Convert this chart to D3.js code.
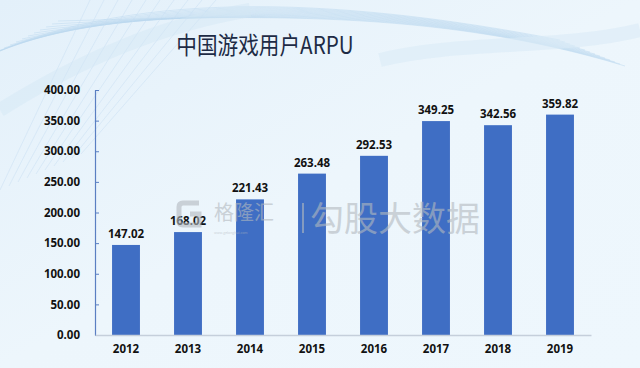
<!DOCTYPE html>
<html>
<head>
<meta charset="utf-8">
<script src="https://cdn.jsdelivr.net/npm/d3@7"></script>
<style>
  body { margin: 0; }
  svg { display: block; }
</style>
</head>
<body>
<div class="chart"></div>
<script>
var years = ["2012", "2013", "2014", "2015", "2016", "2017", "2018", "2019"];
var arpu = [147.02, 168.02, 221.43, 263.48, 292.53, 349.25, 342.56, 359.82];
var yTicks = [0, 50, 100, 150, 200, 250, 300, 350, 400];

var svgWidth = 640;
var svgHeight = 368;

var margin = { top: 90, right: 49, bottom: 33, left: 95 };
var width = svgWidth - margin.left - margin.right;
var height = svgHeight - margin.top - margin.bottom;

var svg = d3.select(".chart")
  .append("svg")
  .attr("width", svgWidth)
  .attr("height", svgHeight);

// background
var defs = svg.append("defs");
var grad = defs.append("linearGradient")
  .attr("id", "bg")
  .attr("x1", "0").attr("y1", "0").attr("x2", "1").attr("y2", "1");
grad.append("stop").attr("offset", "0%").attr("stop-color", "#e3f0fa");
grad.append("stop").attr("offset", "50%").attr("stop-color", "#edf6fc");
grad.append("stop").attr("offset", "100%").attr("stop-color", "#eef7fd");

svg.append("rect")
  .attr("width", svgWidth)
  .attr("height", svgHeight)
  .attr("fill", "url(#bg)");

// decorative swooshes at the top
var swoosh = svg.append("g").attr("fill", "none");
for (var i = 0; i < 14; i++) {
  swoosh.append("path")
    .attr("d", "M" + (-20 + i * 6) + "," + (60 - i * 3) +
      " C" + (120 + i * 10) + "," + (-10 + i * 2) + " " + (330 + i * 8) + "," + (-5 + i) +
      " " + (560 + i * 5) + "," + (40 + i * 2))
    .attr("stroke", "#b9d6ee")
    .attr("stroke-width", 0.8)
    .attr("opacity", 0.6);
}
for (var j = 0; j < 10; j++) {
  swoosh.append("path")
    .attr("d", "M" + (j * 9) + "," + (190 - j * 4) + " L" + (90 + j * 14) + ",0")
    .attr("stroke", "#c6def2")
    .attr("stroke-width", 0.8)
    .attr("opacity", 0.6);
}
swoosh.append("path")
  .attr("d", "M0,110 C80,60 160,25 250,10")
  .attr("stroke", "#d2e6f5").attr("stroke-width", 14).attr("opacity", 0.45);
swoosh.append("path")
  .attr("d", "M380,60 C460,40 560,50 640,30")
  .attr("stroke", "#dbebf7").attr("stroke-width", 14).attr("opacity", 0.6);

// title (condensed look)
svg.append("text")
  .attr("transform", "translate(265, 54) scale(0.86, 1)")
  .attr("text-anchor", "middle")
  .attr("font-family", "'Noto Sans CJK SC', sans-serif")
  .attr("font-size", 24)
  .attr("fill", "#1d2b45")
  .text("中国游戏用户ARPU");

var chartGroup = svg.append("g")
  .attr("transform", `translate(${margin.left}, ${margin.top})`);

var xBandScale = d3.scaleBand()
  .domain(years)
  .range([0, width])
  .paddingInner(0.55)
  .paddingOuter(0.275);

var yLinearScale = d3.scaleLinear()
  .domain([0, 400])
  .range([height, 0]);

var bottomAxis = d3.axisBottom(xBandScale).tickSize(0).tickPadding(10);
var leftAxis = d3.axisLeft(yLinearScale)
  .tickValues(yTicks)
  .tickFormat(d3.format(".2f"))
  .tickSizeInner(-4)
  .tickSizeOuter(0)
  .tickPadding(15);

// y axis
var yAxis = chartGroup.append("g").call(leftAxis);
yAxis.select(".domain").attr("stroke", "#5a7fc2").attr("stroke-width", 1.2);
yAxis.selectAll(".tick line").attr("stroke", "#5a7fc2");
yAxis.selectAll("text")
  .attr("font-family", "'Noto Sans', sans-serif")
  .attr("font-weight", "bold")
  .attr("font-size", 11.5)
  .attr("fill", "#111");

// bars
chartGroup.selectAll("rect.bar")
  .data(arpu)
  .enter()
  .append("rect")
  .attr("class", "bar")
  .attr("x", (d, i) => xBandScale(years[i]))
  .attr("y", d => yLinearScale(d))
  .attr("width", xBandScale.bandwidth())
  .attr("height", d => height - yLinearScale(d))
  .attr("fill", "#3f6ec4");

// value labels
chartGroup.selectAll("text.value")
  .data(arpu)
  .enter()
  .append("text")
  .attr("class", "value")
  .attr("x", (d, i) => xBandScale(years[i]) + xBandScale.bandwidth() / 2)
  .attr("y", d => yLinearScale(d) - 7)
  .attr("text-anchor", "middle")
  .attr("font-family", "'Noto Sans', sans-serif")
  .attr("font-weight", "bold")
  .attr("font-size", 11.5)
  .attr("fill", "#111")
  .text(d => d3.format(".2f")(d));

// x axis
var xAxis = chartGroup.append("g")
  .attr("transform", `translate(0, ${height})`)
  .call(bottomAxis);
xAxis.select(".domain").attr("stroke", "#c5cfdb").attr("stroke-width", 1.5);
xAxis.selectAll("text")
  .attr("font-family", "'Noto Sans', sans-serif")
  .attr("font-weight", "bold")
  .attr("font-size", 11.5)
  .attr("fill", "#111");

// watermark, drawn over the bars
var wm = svg.append("g").attr("fill", "#b3b9bf").attr("opacity", 0.6)
  .attr("font-family", "'Noto Sans CJK SC', sans-serif");
wm.append("path")
  .attr("d", "M199,203 L183,203 Q179,203 179,207 L179,221 Q179,225 183,225 L199,225 L199,214 L190,214")
  .attr("fill", "none").attr("stroke", "#b3b9bf").attr("stroke-width", 5);
wm.append("text").attr("x", 214).attr("y", 220).attr("font-size", 20).text("格隆汇");
wm.append("text").attr("x", 214).attr("y", 234).attr("font-size", 3.5).text("www.gelonghui.com");
wm.append("rect").attr("x", 302).attr("y", 203).attr("width", 2).attr("height", 30);
wm.append("text").attr("x", 310).attr("y", 231).attr("font-size", 34).text("勾股大数据");
</script>
</body>
</html>
